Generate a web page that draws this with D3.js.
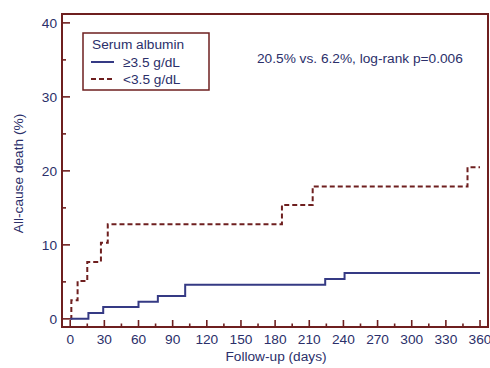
<!DOCTYPE html>
<html>
<head>
<meta charset="utf-8">
<script src="https://cdn.jsdelivr.net/npm/d3@7"></script>
<style>
  body { margin: 0; background: #fff; }
  svg { display: block; font-family: "Liberation Sans", Arial, sans-serif; }
</style>
</head>
<body>
<div id="chart"></div>
<script>
// step data: [day, cumulative death %]
const highAlbumin = [[0, 0], [16, 0.8], [29, 1.6], [60, 2.3], [77, 3.1], [101, 4.6], [224, 5.4], [241, 6.2], [360, 6.2]];
const lowAlbumin = [[0, 0], [1, 2.5], [6.5, 5.1], [15, 7.7], [27, 10.3], [33, 12.8], [186, 15.4], [213, 17.9], [349, 20.5], [360, 20.5]];
const seriesLabels = ['\u22653.5 g/dL', '<3.5 g/dL'];
const xTicks = d3.range(0, 361, 30);
const yTicks = [0, 10, 20, 30, 40];
const annotation = '20.5% vs. 6.2%, log-rank p=0.006';

const width = 490, height = 368;
const margin = { top: 14, right: 2, bottom: 41, left: 62 };
const maroon = '#6e1f1f', navy = '#353a84', textColor = '#2b2f6a';
const fs = 13.7;

const svg = d3.select('#chart').append('svg')
  .attr('width', width)
  .attr('height', height);

const x = d3.scaleLinear().domain([-7.2, 367]).range([margin.left, width - margin.right]);
const y = d3.scaleLinear().domain([-1.1, 41.2]).range([height - margin.bottom, margin.top]);

// frame
svg.append('rect')
  .attr('x', margin.left).attr('y', margin.top)
  .attr('width', width - margin.right - margin.left)
  .attr('height', height - margin.bottom - margin.top)
  .attr('fill', 'none').attr('stroke', maroon).attr('stroke-width', 2);

// x ticks (inward)
const xg = svg.append('g');
d3.range(0, 361, 15).forEach(d => {
  const major = d % 30 === 0;
  xg.append('line')
    .attr('x1', x(d)).attr('x2', x(d))
    .attr('y1', y.range()[0]).attr('y2', y.range()[0] - (major ? 7 : 3.5))
    .attr('stroke', maroon).attr('stroke-width', 1.6);
});
xg.selectAll('text').data(xTicks).join('text')
  .attr('x', d => x(d)).attr('y', y.range()[0] + 17)
  .attr('text-anchor', 'middle')
  .attr('font-size', fs).attr('fill', textColor)
  .text(d => d);

// y ticks (inward)
const yg = svg.append('g');
d3.range(0, 41, 5).forEach(d => {
  const major = d % 10 === 0;
  yg.append('line')
    .attr('x1', x.range()[0]).attr('x2', x.range()[0] + (major ? 8 : 4))
    .attr('y1', y(d)).attr('y2', y(d))
    .attr('stroke', maroon).attr('stroke-width', 1.6);
});
yg.selectAll('text').data(yTicks).join('text')
  .attr('x', x.range()[0] - 5).attr('y', d => y(d) + 5)
  .attr('text-anchor', 'end')
  .attr('font-size', fs).attr('fill', textColor)
  .text(d => d);

// axis titles
svg.append('text')
  .attr('x', (margin.left + width - margin.right) / 2 + 1)
  .attr('y', 361)
  .attr('text-anchor', 'middle')
  .attr('font-size', fs).attr('fill', textColor)
  .text('Follow-up (days)');

svg.append('text')
  .attr('transform', `translate(23,${(margin.top + height - margin.bottom) / 2 + 3}) rotate(-90)`)
  .attr('text-anchor', 'middle')
  .attr('font-size', fs).attr('fill', textColor)
  .text('All-cause death (%)');

// curves
const line = d3.line()
  .x(d => x(d[0]))
  .y(d => y(d[1]))
  .curve(d3.curveStepAfter);

svg.append('path')
  .datum(lowAlbumin)
  .attr('d', line)
  .attr('fill', 'none')
  .attr('stroke', maroon)
  .attr('stroke-width', 2)
  .attr('stroke-dasharray', '5,3');

svg.append('path')
  .datum(highAlbumin)
  .attr('d', line)
  .attr('fill', 'none')
  .attr('stroke', navy)
  .attr('stroke-width', 2);

// legend
const lg = svg.append('g');
lg.append('rect')
  .attr('x', 83).attr('y', 33)
  .attr('width', 126).attr('height', 57)
  .attr('fill', '#fff').attr('stroke', maroon).attr('stroke-width', 1.5);
lg.append('text')
  .attr('x', 92).attr('y', 49)
  .attr('font-size', fs).attr('fill', textColor)
  .text('Serum albumin');
const legendStyles = [{ color: navy, dash: null }, { color: maroon, dash: '5,3' }];
seriesLabels.forEach((label, i) => {
  const yy = 62 + i * 17;
  lg.append('line')
    .attr('x1', 91).attr('x2', 114)
    .attr('y1', yy).attr('y2', yy)
    .attr('stroke', legendStyles[i].color)
    .attr('stroke-width', 2)
    .attr('stroke-dasharray', legendStyles[i].dash);
  lg.append('text')
    .attr('x', 123).attr('y', yy + 5)
    .attr('font-size', fs).attr('fill', textColor)
    .text(label);
});

// annotation
svg.append('text')
  .attr('x', 257).attr('y', 63)
  .attr('font-size', fs).attr('fill', textColor)
  .text(annotation);
</script>
</body>
</html>
